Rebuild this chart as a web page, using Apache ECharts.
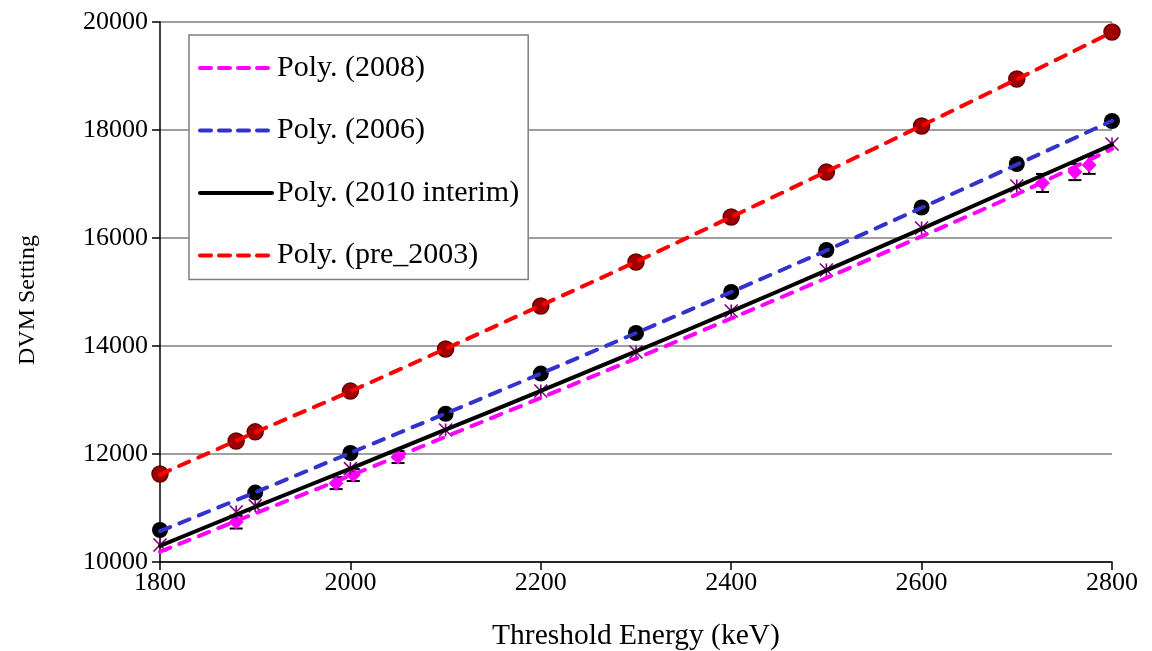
<!DOCTYPE html>
<html>
<head>
<meta charset="utf-8">
<script src="https://cdn.jsdelivr.net/npm/echarts@6/dist/echarts.min.js"></script>
<style>html,body{margin:0;padding:0;background:#fff;}#c{width:1152px;height:651px;}</style>
</head>
<body>
<div id="c"></div>
<script>
// Trendline samples
const xTrend = [1800, 1900, 2000, 2100, 2200, 2300, 2400, 2500, 2600, 2700, 2800];
const trend2008 = [10190, 10900, 11600, 12320, 13040, 13770, 14510, 15260, 16030, 16810, 17650];
const trend2006 = [10570, 11290, 12020, 12750, 13490, 14240, 15000, 15770, 16560, 17360, 18170];
const trend2010 = [10300, 11020, 11730, 12450, 13170, 13900, 14640, 15400, 16170, 16950, 17730];
const trendPre2003 = [11620, 12400, 13160, 13950, 14750, 15560, 16390, 17230, 18080, 18940, 19810];

// Data points
const xPre2003 = [1800, 1880, 1900, 2000, 2100, 2200, 2300, 2400, 2500, 2600, 2700, 2800];
const yPre2003 = [11630, 12240, 12410, 13165, 13945, 14740, 15555, 16390, 17220, 18075, 18945, 19815];
const x2006 = [1800, 1900, 2000, 2100, 2200, 2300, 2400, 2500, 2600, 2700, 2800];
const y2006 = [10593, 11285, 12019, 12745, 13490, 14241, 15000, 15778, 16565, 17370, 18167];
const x2010 = [1800, 1880, 1900, 2000, 2100, 2200, 2300, 2400, 2500, 2600, 2700, 2800];
const y2010 = [10315, 10926, 11040, 11730, 12444, 13167, 13889, 14648, 15407, 16185, 16963, 17741];
const x2008 = [1880, 1985, 2003, 2050, 2727, 2761, 2776];
const y2008 = [10740, 11460, 11610, 11944, 17019, 17222, 17352];
const err2008 = [120, 110, 110, 110, 167, 150, 165];

const legendNames = ['Poly. (2008)', 'Poly. (2006)', 'Poly. (2010 interim)', 'Poly. (pre_2003)'];
const xTicks = [1800, 2000, 2200, 2400, 2600, 2800];
const yTicks = [10000, 12000, 14000, 16000, 18000, 20000];

const pairs = (xs, ys) => xs.map((x, i) => [x, ys[i]]);
const FONT = 'Liberation Serif';
const dash = [11, 10];

const chart = echarts.init(document.getElementById('c'), null, {renderer: 'canvas'});
chart.setOption({
  animation: false,
  backgroundColor: '#ffffff',
  grid: {left: 160, right: 40, top: 22, bottom: 89, containLabel: false, outerBoundsMode: 'none'},
  xAxis: {
    type: 'value', min: xTicks[0], max: xTicks[xTicks.length - 1], interval: 200,
    name: 'Threshold Energy (keV)', nameLocation: 'middle', nameGap: 59,
    nameTextStyle: {fontFamily: FONT, fontSize: 29.5, color: '#000'},
    axisLine: {show: true, lineStyle: {color: '#000', width: 1.5}},
    axisTick: {show: true, inside: false, length: 8, lineStyle: {color: '#000', width: 1.5}},
    axisLabel: {fontFamily: FONT, fontSize: 26, color: '#000', margin: 8, formatter: v => String(v)},
    splitLine: {show: false}
  },
  yAxis: {
    type: 'value', min: yTicks[0], max: yTicks[yTicks.length - 1], interval: 2000,
    name: 'DVM Setting', nameLocation: 'middle', nameGap: 120,
    nameTextStyle: {fontFamily: FONT, fontSize: 24, color: '#000', padding: [0, 16, 0, 0]},
    axisLine: {show: true, lineStyle: {color: '#000', width: 1.5}},
    axisTick: {show: true, inside: false, length: 8, lineStyle: {color: '#000', width: 1.5}},
    axisLabel: {fontFamily: FONT, fontSize: 26, color: '#000', margin: 12, formatter: v => String(v)},
    splitLine: {show: true, lineStyle: {color: '#7f7f7f', width: 1.5}}
  },
  legend: {
    data: [
      {name: legendNames[0]},
      {name: legendNames[1]},
      {name: legendNames[2], lineStyle: {type: 'solid'}},
      {name: legendNames[3]}
    ],
    orient: 'vertical', left: 189, top: 35,
    backgroundColor: '#fff', borderColor: '#7f7f7f', borderWidth: 1.5,
    padding: [18, 9, 9, 9],
    itemWidth: 72, itemHeight: 14, itemGap: 32.5,
    itemStyle: {opacity: 0},
    lineStyle: {width: 4, type: [11, 8], cap: 'round'},
    textStyle: {fontFamily: FONT, fontSize: 30, color: '#000', lineHeight: 30},
    selectedMode: false
  },
  series: [
    {type: 'scatter', name: 'pts2008', data: pairs(x2008, y2008), symbol: 'diamond', symbolSize: 15,
     itemStyle: {color: '#ff00ff', opacity: 1}, z: 3},
    {type: 'custom', name: 'err2008', data: x2008.map((x, i) => [x, y2008[i], err2008[i]]),
     renderItem: function (params, api) {
       const x = api.value(0), y = api.value(1), e = api.value(2);
       const top = api.coord([x, y + e]);
       const bot = api.coord([x, y - e]);
       const hw = 6.5;
       const st = {stroke: '#000', lineWidth: 2};
       return {type: 'group', children: [
         {type: 'line', shape: {x1: top[0], y1: top[1], x2: bot[0], y2: bot[1]}, style: st},
         {type: 'line', shape: {x1: top[0] - hw, y1: top[1], x2: top[0] + hw, y2: top[1]}, style: st},
         {type: 'line', shape: {x1: bot[0] - hw, y1: bot[1], x2: bot[0] + hw, y2: bot[1]}, style: st}
       ]};
     }, z: 2},
    {type: 'scatter', name: 'pts2006', data: pairs(x2006, y2006), symbol: 'circle', symbolSize: 16,
     itemStyle: {color: '#000', opacity: 1}, z: 3},
    {type: 'scatter', name: 'pts2010', data: pairs(x2010, y2010),
     symbol: 'path://M0,0L10,10M10,0L0,10M5,0L5,10', symbolSize: 13,
     itemStyle: {color: 'rgba(0,0,0,0)', borderColor: '#800080', borderWidth: 1.6, opacity: 1}, z: 3},
    {type: 'scatter', name: 'ptsPre2003', data: pairs(xPre2003, yPre2003), symbol: 'circle', symbolSize: 16,
     itemStyle: {color: '#a00000', borderColor: '#650000', borderWidth: 1.5, opacity: 1}, z: 3},

    {type: 'line', name: legendNames[0], data: pairs(xTrend, trend2008), smooth: 0.3, symbol: 'none',
     lineStyle: {color: '#ff00ff', width: 4, type: dash, cap: 'round'}, itemStyle: {color: '#ff00ff'}, z: 4},
    {type: 'line', name: legendNames[1], data: pairs(xTrend, trend2006), smooth: 0.3, symbol: 'none',
     lineStyle: {color: '#3333cc', width: 4, type: dash, cap: 'round'}, itemStyle: {color: '#3333cc'}, z: 4},
    {type: 'line', name: legendNames[2], data: pairs(xTrend, trend2010), smooth: 0.3, symbol: 'none',
     lineStyle: {color: '#000000', width: 4, type: 'solid', cap: 'round'}, itemStyle: {color: '#000'}, z: 4},
    {type: 'line', name: legendNames[3], data: pairs(xTrend, trendPre2003), smooth: 0.3, symbol: 'none',
     lineStyle: {color: '#ff0000', width: 4, type: dash, cap: 'round'}, itemStyle: {color: '#ff0000'}, z: 4}
  ]
});
</script>
</body>
</html>
